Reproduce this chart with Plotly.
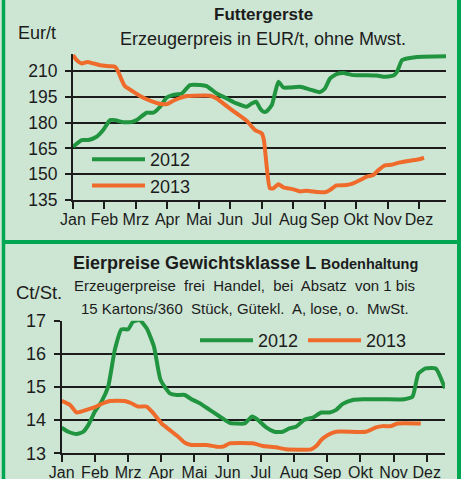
import plotly.graph_objects as go

W, H = 461, 479

months = ["Jan", "Feb", "Mrz", "Apr", "Mai", "Jun", "Jul", "Aug", "Sep", "Okt", "Nov", "Dez"]

# --- Futtergerste (EUR/t) ---
gerste_2012_x = [0, 0.28, 0.49, 0.75, 0.96, 1.18, 1.34, 1.60, 1.87, 2.02, 2.34, 2.55, 2.77, 2.98, 3.19,
                 3.46, 3.72, 4.04, 4.25, 4.57, 4.89, 5.20, 5.52, 5.68, 5.82, 5.95, 6.05, 6.16, 6.32,
                 6.42, 6.53, 6.69, 6.90, 7.22, 7.54, 7.85, 8.01, 8.17, 8.38, 8.60, 8.91, 9.34, 9.66,
                 9.87, 10.19, 10.30, 10.46, 10.62, 10.94, 11.86]
gerste_2012_y = [166.0, 169.9, 169.9, 171.8, 175.7, 181.5, 181.5, 180.3, 180.5, 181.5, 185.8, 185.8,
                 189.3, 194.7, 196.2, 197.0, 201.9, 201.9, 201.3, 197.0, 194.1, 191.2, 189.3, 191.2,
                 192.2, 188.3, 186.4, 186.7, 190.2, 197.0, 203.8, 200.5, 200.5, 200.9, 199.3, 197.8,
                 199.9, 205.7, 208.3, 209.0, 207.7, 207.7, 207.5, 206.7, 207.5, 209.6, 216.4, 217.4,
                 218.3, 218.7]

gerste_2013_x = [0, 0.12, 0.28, 0.46, 0.65, 0.86, 1.18, 1.34, 1.44, 1.55, 1.65, 1.87, 2.13, 2.45, 2.71,
                 2.98, 3.19, 3.46, 3.62, 3.83, 4.36, 4.57, 4.89, 5.20, 5.52, 5.79, 6.0, 6.07, 6.16,
                 6.26, 6.37, 6.53, 6.69, 7.01, 7.22, 7.43, 7.75, 8.01, 8.17, 8.38, 8.70, 8.91, 9.13,
                 9.34, 9.55, 9.71, 9.92, 10.13, 10.40, 10.72, 10.98, 11.16]
gerste_2013_y = [219.3, 216.4, 214.5, 215.4, 214.5, 213.5, 212.9, 212.5, 209.6, 204.8, 201.3, 198.6,
                 195.5, 192.8, 191.2, 190.8, 192.8, 194.7, 195.5, 195.7, 195.7, 194.1, 189.6, 185.4,
                 181.1, 175.7, 173.8, 169.9, 154.4, 141.8, 141.8, 144.1, 142.4, 141.2, 140.0, 140.4,
                 139.7, 139.5, 140.8, 143.5, 143.7, 144.7, 146.6, 148.6, 149.5, 152.4, 155.2, 155.5,
                 156.9, 157.9, 158.6, 159.6]

gerste_ticks = [135, 150, 165, 180, 195, 210]

# --- Eierpreise (Ct/St.) ---
eier_2012_x = [0, 0.2, 0.45, 0.65, 0.80, 1.0, 1.20, 1.40, 1.60, 1.80, 2.0, 2.15, 2.35, 2.56, 2.78,
               2.98, 3.26, 3.46, 3.71, 3.91, 4.16, 4.46, 4.76, 5.06, 5.26, 5.51, 5.74, 5.91, 6.16,
               6.41, 6.66, 6.86, 7.06, 7.31, 7.57, 7.82, 8.07, 8.27, 8.47, 8.77, 9.07, 9.67, 10.32,
               10.57, 10.75, 10.97, 11.27, 11.55]
eier_2012_y = [13.77, 13.65, 13.58, 13.65, 13.85, 14.26, 14.56, 15.01, 16.12, 16.74, 16.74, 16.97,
               17.02, 16.77, 16.22, 15.21, 14.81, 14.76, 14.76, 14.63, 14.51, 14.31, 14.11, 13.92,
               13.90, 13.90, 14.11, 14.01, 13.78, 13.65, 13.65, 13.75, 13.80, 14.01, 14.08, 14.23,
               14.23, 14.31, 14.49, 14.61, 14.63, 14.63, 14.63, 14.71, 15.41, 15.56, 15.56, 14.96]

eier_2013_x = [0, 0.25, 0.45, 0.75, 1.0, 1.25, 1.45, 1.90, 2.10, 2.30, 2.56, 2.76, 3.01, 3.26, 3.51,
               3.71, 3.91, 4.36, 4.66, 4.86, 5.06, 5.76, 6.06, 6.46, 6.76, 7.51, 7.67, 7.82, 8.02,
               8.27, 9.17, 9.47, 9.67, 9.92, 10.12, 10.82]
eier_2013_y = [14.58, 14.46, 14.23, 14.31, 14.39, 14.51, 14.58, 14.58, 14.51, 14.41, 14.41, 14.21,
               13.90, 13.70, 13.50, 13.32, 13.25, 13.25, 13.20, 13.20, 13.30, 13.30, 13.22, 13.18,
               13.12, 13.12, 13.22, 13.40, 13.55, 13.65, 13.65, 13.78, 13.82, 13.82, 13.90, 13.90]

eier_ticks = [13, 14, 15, 16, 17]

GREEN = "#21943f"
ORANGE = "#ef6b2b"
BG = "#cde6d4"
BORDER = "#00a651"
INK = "#1c1c1c"
FONT = "Liberation Sans, Arial, sans-serif"

def px_x(p):
    return p / W

def px_y(p):
    return 1 - p / H

fig = go.Figure()

line_kw = dict(mode="lines", line_shape="spline")
fig.add_trace(go.Scatter(x=gerste_2012_x, y=gerste_2012_y, name="2012", xaxis="x", yaxis="y",
                         line=dict(color=GREEN, width=4, smoothing=0.5), legend="legend", **line_kw))
fig.add_trace(go.Scatter(x=gerste_2013_x, y=gerste_2013_y, name="2013", xaxis="x", yaxis="y",
                         line=dict(color=ORANGE, width=4, smoothing=0.5), legend="legend", **line_kw))
fig.add_trace(go.Scatter(x=eier_2012_x, y=eier_2012_y, name="2012", xaxis="x2", yaxis="y2",
                         line=dict(color=GREEN, width=4, smoothing=0.5), legend="legend2", **line_kw))
fig.add_trace(go.Scatter(x=eier_2013_x, y=eier_2013_y, name="2013", xaxis="x2", yaxis="y2",
                         line=dict(color=ORANGE, width=4, smoothing=0.5), legend="legend2", **line_kw))

axis_common = dict(showline=True, linecolor=INK, linewidth=2, ticks="outside", tickcolor=INK,
                   tickwidth=2, zeroline=False, automargin=False)
month_font = dict(family=FONT, size=16, color=INK)

fig.update_layout(
    width=W, height=H,
    margin=dict(l=0, r=0, t=0, b=0),
    paper_bgcolor=BG, plot_bgcolor=BG,
    xaxis=dict(domain=[px_x(73), px_x(446)], range=[0, 11.86], tickvals=list(range(12)),
               ticktext=months, showgrid=False, ticklen=7, anchor="y", tickangle=0,
               tickfont=month_font, ticklabelstandoff=-3, **axis_common),
    yaxis=dict(domain=[px_y(200), px_y(54)], range=[135, 220], tickvals=gerste_ticks,
               showgrid=True, gridcolor=INK, gridwidth=2, ticklen=6, anchor="x",
               tickfont=dict(family=FONT, size=17.5, color=INK), ticklabelstandoff=4, **axis_common),
    xaxis2=dict(domain=[px_x(61.7), px_x(445)], range=[0, 11.55], tickvals=list(range(12)),
                ticktext=months, showgrid=False, ticklen=7, anchor="y2", tickangle=0,
                tickfont=month_font, ticklabelstandoff=-4, **axis_common),
    yaxis2=dict(domain=[px_y(453.3), px_y(320.7)], range=[13, 17], tickvals=eier_ticks,
                showgrid=True, gridcolor=INK, gridwidth=2, ticklen=6, anchor="x2",
                tickfont=dict(family=FONT, size=18, color=INK), ticklabelstandoff=4, **axis_common),
    legend=dict(x=px_x(87), y=px_y(141), xanchor="left", yanchor="top", orientation="v",
                bgcolor="rgba(0,0,0,0)", itemwidth=53, tracegroupgap=0,
                font=dict(family=FONT, size=18, color=INK)),
    legend2=dict(x=px_x(195), y=px_y(322), xanchor="left", yanchor="top", orientation="h",
                 bgcolor="rgba(0,0,0,0)", itemwidth=53,
                 font=dict(family=FONT, size=18, color=INK)),
    showlegend=True,
)

annotations = [
    dict(text="<b>Futtergerste</b>", x=px_x(263), y=px_y(15), font=dict(family=FONT, size=17, color=INK)),
    dict(text="Erzeugerpreis in EUR/t, ohne Mwst.", x=px_x(263), y=px_y(39),
         font=dict(family=FONT, size=18, color=INK)),
    dict(text="Eur/t", x=px_x(37), y=px_y(33), font=dict(family=FONT, size=18, color=INK)),
    dict(text="<b>Eierpreise Gewichtsklasse L <span style='font-size:14.5px'>Bodenhaltung</span></b>",
         x=px_x(245), y=px_y(263), font=dict(family=FONT, size=18, color=INK)),
    dict(text="Erzeugerpreise  frei  Handel,  bei  Absatz  von 1 bis", x=px_x(244), y=px_y(285.5),
         font=dict(family=FONT, size=15, color=INK)),
    dict(text="15 Kartons/360  Stück, Gütekl.  A, lose, o.  MwSt.", x=px_x(245), y=px_y(308),
         font=dict(family=FONT, size=15, color=INK)),
    dict(text="Ct/St.", x=px_x(38.5), y=px_y(292), font=dict(family=FONT, size=18.5, color=INK)),
]
for a in annotations:
    a.update(xref="paper", yref="paper", showarrow=False, xanchor="center", yanchor="middle")
fig.update_layout(annotations=annotations)

shapes = [
    dict(type="line", x0=px_x(3.5), x1=px_x(3.5), y0=0, y1=1, line=dict(color=BORDER, width=3.5)),
    dict(type="line", x0=px_x(459), x1=px_x(459), y0=0, y1=1, line=dict(color=BORDER, width=4)),
    dict(type="line", x0=px_x(2), x1=px_x(461), y0=px_y(242), y1=px_y(242), line=dict(color=BORDER, width=4)),
]
for s in shapes:
    s.update(xref="paper", yref="paper", layer="above")
fig.update_layout(shapes=shapes)

fig.write_html("out.html")
